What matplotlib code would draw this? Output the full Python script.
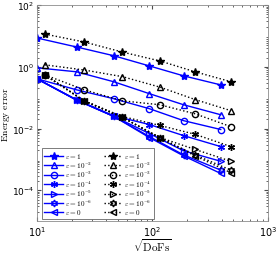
import matplotlib
matplotlib.use('Agg')
import matplotlib.pyplot as plt

plt.rcParams['mathtext.fontset'] = 'cm'

# sqrt(DoFs) for the two discretizations
x_blue = [10, 22, 46, 94, 186, 390]
x_black = [11.7, 25.6, 55, 116, 234, 477]

eps_labels = [r'$\varepsilon = 1$', r'$\varepsilon = 10^{-2}$', r'$\varepsilon = 10^{-3}$',
              r'$\varepsilon = 10^{-4}$', r'$\varepsilon = 10^{-5}$', r'$\varepsilon = 10^{-6}$',
              r'$\varepsilon = 0$']

# energy errors, blue (solid) family
err_blue = [
    [8.6, 4.4, 2.3, 1.07, 0.51, 0.26],
    [0.93, 0.69, 0.33, 0.135, 0.059, 0.028],
    [0.41, 0.18, 0.093, 0.044, 0.018, 0.0093],
    [0.41, 0.086, 0.026, 0.0135, 0.0059, 0.0026],
    [0.41, 0.084, 0.025, 0.0069, 0.0019, 0.00087],
    [0.41, 0.084, 0.025, 0.0055, 0.0014, 0.00045],
    [0.41, 0.084, 0.025, 0.0051, 0.0013, 0.00035],
]

# energy errors, black (dotted) family
err_black = [
    [11.5, 6.4, 3.0, 1.55, 0.69, 0.33],
    [1.16, 0.79, 0.48, 0.22, 0.087, 0.038],
    [0.55, 0.18, 0.079, 0.059, 0.030, 0.0115],
    [0.55, 0.079, 0.0245, 0.0126, 0.0065, 0.0026],
    [0.55, 0.079, 0.023, 0.0051, 0.0021, 0.00087],
    [0.55, 0.079, 0.023, 0.0051, 0.0014, 0.00045],
    [0.55, 0.079, 0.023, 0.0049, 0.0013, 0.00037],
]

markers = ['*', '^', 'o', (6, 2, 0), '>', (6, 1, 0), '<']
filled = [True, False, False, True, False, False, False]
msizes = [6, 4.5, 4.5, 5, 4.5, 5, 4.5]

fig = plt.figure(figsize=(2.8, 2.55), dpi=100)
ax = fig.add_axes([0.132, 0.129, 0.825, 0.847])

handles_b = []
handles_k = []
for i in range(len(eps_labels)):
    fc = 'blue' if filled[i] else 'none'
    h, = ax.loglog(x_blue, err_blue[i], '-', color='blue', lw=1.0,
                   marker=markers[i], ms=msizes[i], mfc=fc, mec='blue', mew=1.0)
    handles_b.append(h)
for i in range(len(eps_labels)):
    fc = 'black' if filled[i] else 'none'
    h, = ax.loglog(x_black, err_black[i], ':', color='black', lw=1.0,
                   marker=markers[i], ms=msizes[i], mfc=fc, mec='black', mew=1.0)
    handles_k.append(h)

ax.set_xlim(10, 1000)
ax.set_ylim(1e-5, 1e2)
ax.set_yticks([1e-4, 1e-2, 1e0, 1e2])
ax.set_xlabel(r'$\sqrt{\mathrm{DoFs}}$', fontsize=8, labelpad=-1)
ax.set_ylabel(r'$\mathrm{Energy\ error}$', fontsize=7)
ax.yaxis.set_label_coords(-0.108, 0.5)
ax.tick_params(which='both', direction='in', top=True, right=True, labelsize=7,
               color='0.3', pad=2)
ax.tick_params(axis='y', labelsize=6.5)
ax.tick_params(which='major', length=3)
ax.tick_params(which='minor', length=1.5)
for s in ax.spines.values():
    s.set_color('0.55')
    s.set_linewidth(0.6)

leg = ax.legend(handles_b + handles_k, eps_labels + eps_labels, ncol=2,
                loc='lower left', bbox_to_anchor=(0.02, 0.01), borderaxespad=0,
                fontsize=5.2, handlelength=2.6, handletextpad=0.2, columnspacing=1.6,
                labelspacing=-0.1, borderpad=0.4, fancybox=False, edgecolor='0.4',
                framealpha=1)
leg.get_frame().set_linewidth(0.6)

fig.savefig('out.png', dpi=100)
